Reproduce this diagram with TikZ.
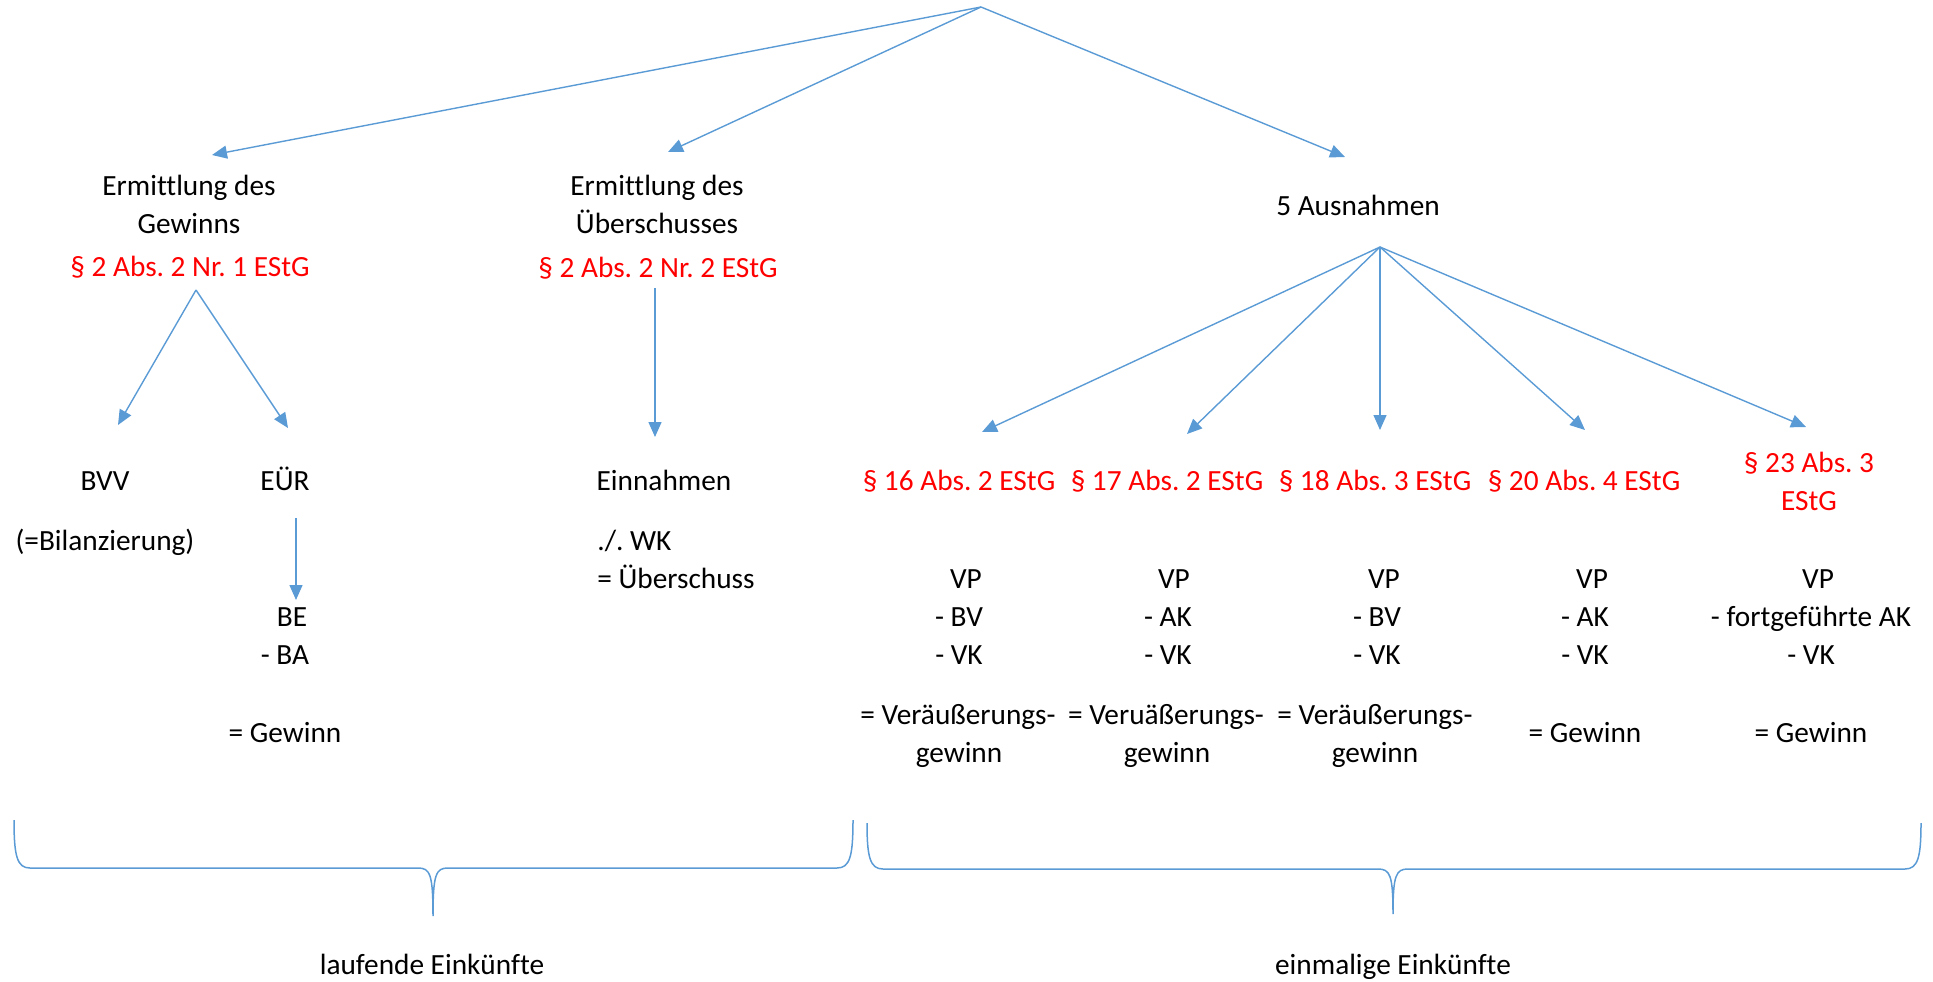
\documentclass[tikz,border=0pt]{standalone}
\usepackage{fontspec}
\setmainfont{Carlito}[Ligatures=NoCommon]
\usetikzlibrary{arrows.meta}
\definecolor{lineblue}{HTML}{5B9BD5}
\definecolor{lawred}{HTML}{FF0000}
\frenchspacing

\begin{document}
\begin{tikzpicture}[x=0.5pt,y=-0.5pt,
  txt/.style={anchor=base,inner sep=0pt,font=\fontsize{14.65}{18}\selectfont},
  law/.style={txt,text=lawred},
  link/.style={draw=lineblue,line width=0.7pt,-{Triangle[length=7.5pt,width=6.5pt]}},
  brace/.style={draw=lineblue,line width=0.75pt}]
\useasboundingbox (0,0) rectangle (1933,981);

% --- top level split ---
\coordinate (root) at (981,7);
\coordinate (tipGew) at (212,155);
\coordinate (tipUeb) at (668,152);
\coordinate (tipAus) at (1345,157);
\draw[link] (root) -- (tipGew);
\draw[link] (root) -- (tipUeb);
\draw[link] (root) -- (tipAus);

% --- Gewinnermittlung ---
\node[txt] (g1) at (189,195) {Ermittlung des};
\node[txt] (g2) at (189,233) {Gewinns};
\node[law] (g3) at (190,276) {§ 2 Abs. 2 Nr. 1 EStG};
\coordinate (gsplit) at (196,290);
\coordinate (tipBvv) at (118,425);
\coordinate (tipEur) at (288,428);
\draw[link] (gsplit) -- (tipBvv);
\draw[link] (gsplit) -- (tipEur);
\node[txt] (bvv) at (105,490) {BVV};
\node[txt] (eur) at (285,490) {EÜR};
\node[txt] (bil) at (105,550) {(=Bilanzierung)};
\coordinate (eurdown) at (296,518);
\coordinate (eurtip) at (296,600);
\draw[link] (eurdown) -- (eurtip);
\node[txt] (be) at (292,626) {BE};
\node[txt] (ba) at (285,664) {- BA};
\node[txt] (gew) at (285,742) {= Gewinn};

% --- Überschussermittlung ---
\node[txt] (u1) at (657,195) {Ermittlung des};
\node[txt] (u2) at (657,233) {Überschusses};
\node[law] (u3) at (658,277) {§ 2 Abs. 2 Nr. 2 EStG};
\coordinate (usplit) at (655,288);
\coordinate (utip) at (655,437);
\draw[link] (usplit) -- (utip);
\node[txt] (ein) at (664,490) {Einnahmen};
\node[txt,anchor=base west] (wk) at (597,550) {./. WK};
\node[txt,anchor=base west] (ueb) at (597,588) {= Überschuss};

% --- Ausnahmen ---
\node[txt] (aus) at (1358,215) {5 Ausnahmen};
\coordinate (asplit) at (1380,247);
\coordinate (tipA) at (982,432);
\coordinate (tipB) at (1187,434);
\coordinate (tipC) at (1380,430);
\coordinate (tipD) at (1585,430);
\coordinate (tipE) at (1806,427);
\foreach \t in {tipA,tipB,tipC,tipD,tipE}
  \draw[link] (asplit) -- (\t);

\node[law] (p16) at (959,490) {§ 16 Abs. 2 EStG};
\node[law] (p17) at (1167,490) {§ 17 Abs. 2 EStG};
\node[law] (p18) at (1375,490) {§ 18 Abs. 3 EStG};
\node[law] (p20) at (1584,490) {§ 20 Abs. 4 EStG};
\node[law] (p23a) at (1809,472) {§ 23 Abs. 3};
\node[law] (p23b) at (1809,510) {EStG};

% column 1
\node[txt] (a1) at (966,588) {VP};
\node[txt] (a2) at (959,626) {- BV};
\node[txt] (a3) at (959,664) {- VK};
\node[txt] (a4) at (958,724) {= Veräußerungs-};
\node[txt] (a5) at (959,762) {gewinn};
% column 2
\node[txt] (b1) at (1174,588) {VP};
\node[txt] (b2) at (1168,626) {- AK};
\node[txt] (b3) at (1168,664) {- VK};
\node[txt] (b4) at (1166,724) {= Veruäßerungs-};
\node[txt] (b5) at (1167,762) {gewinn};
% column 3
\node[txt] (c1) at (1384,588) {VP};
\node[txt] (c2) at (1377,626) {- BV};
\node[txt] (c3) at (1377,664) {- VK};
\node[txt] (c4) at (1375,724) {= Veräußerungs-};
\node[txt] (c5) at (1375,762) {gewinn};
% column 4
\node[txt] (d1) at (1592,588) {VP};
\node[txt] (d2) at (1585,626) {- AK};
\node[txt] (d3) at (1585,664) {- VK};
\node[txt] (d4) at (1585,742) {= Gewinn};
% column 5
\node[txt] (e1) at (1818,588) {VP};
\node[txt] (e2) at (1811,626) {- fortgeführte AK};
\node[txt] (e3) at (1811,664) {- VK};
\node[txt] (e4) at (1811,742) {= Gewinn};

% --- braces ---
\draw[brace] (14,820) .. controls (14,856) and (17,868) .. (30,868) -- (418,868)
  .. controls (430,868) and (433,874) .. (433,916)
  .. controls (433,874) and (436,868) .. (448,868) -- (837,868)
  .. controls (850,868) and (853,856) .. (853,820);
\draw[brace] (867,823) .. controls (867,857) and (870,869) .. (883,869) -- (1378,869)
  .. controls (1390,869) and (1393,875) .. (1393,914)
  .. controls (1393,875) and (1396,869) .. (1408,869) -- (1905,869)
  .. controls (1918,869) and (1921,857) .. (1921,823);
\node[txt] (lauf) at (432,974) {laufende Einkünfte};
\node[txt] (einm) at (1393,974) {einmalige Einkünfte};
\end{tikzpicture}
\end{document}
